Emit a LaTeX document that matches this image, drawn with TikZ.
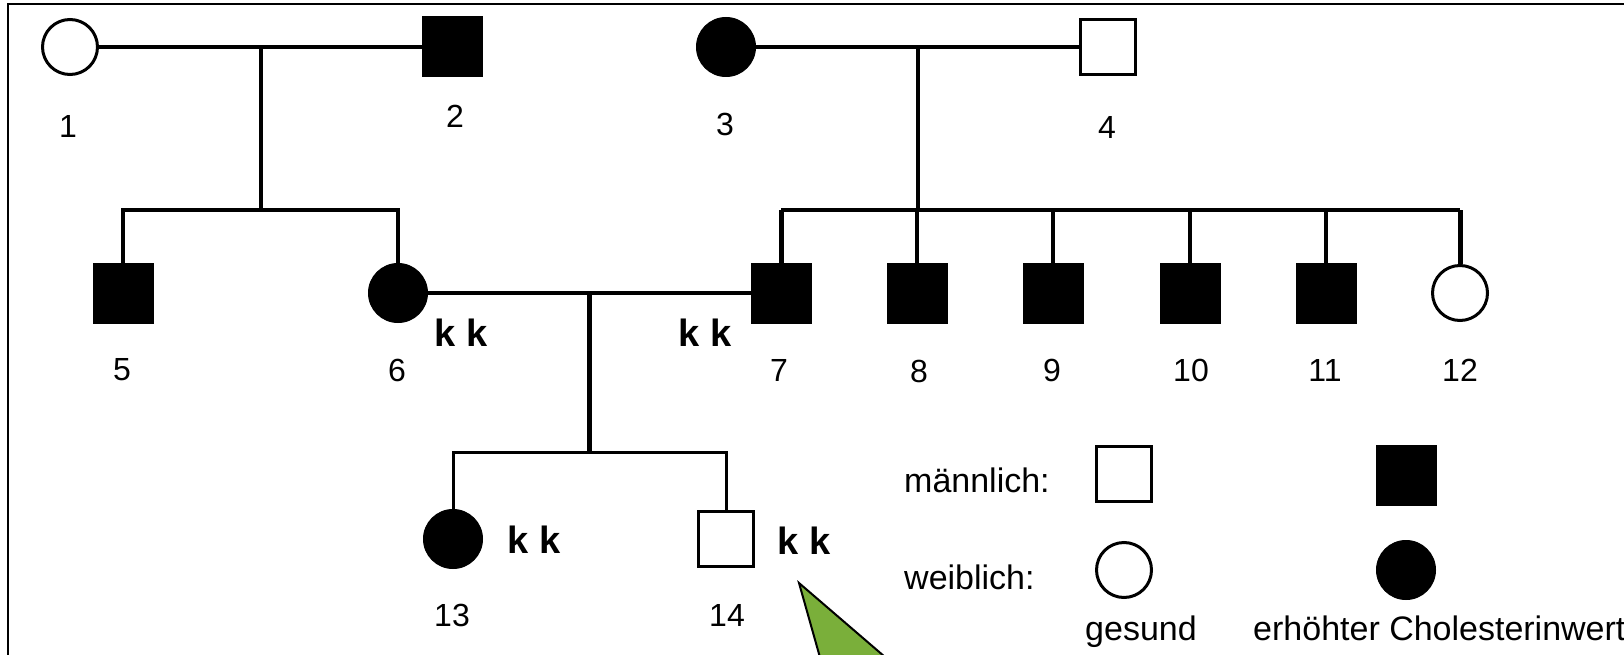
\documentclass[tikz,border=0pt]{standalone}
\usepackage{fontspec}
\setmainfont{Liberation Sans}
\definecolor{calloutgreen}{RGB}{122,175,58}
\begin{document}
\begin{tikzpicture}[x=1pt,y=-1pt,
  hsq/.style={rectangle, draw, fill=white, line width=3pt, minimum size=55pt, inner sep=0pt},
  asq/.style={rectangle, draw, fill=black, line width=1pt, minimum size=60pt, inner sep=0pt},
  hci/.style={circle, draw, fill=white, line width=3pt, minimum size=55pt, inner sep=0pt},
  aci/.style={circle, draw, fill=black, line width=1pt, minimum size=59pt, inner sep=0pt},
  num/.style={font=\fontsize{32}{32}\selectfont, inner sep=0pt},
  geno/.style={font=\fontsize{38}{38}\selectfont\bfseries, inner sep=0pt},
  leg/.style={font=\fontsize{34}{34}\selectfont, inner sep=0pt},
  couple/.style={line width=4pt},
  descent/.style={line width=3.5pt}
]
\useasboundingbox (0,0) rectangle (1624,655);
\clip (0,0) rectangle (1624,655);
% frame
\draw[line width=2.5pt] (8,4) rectangle (1720,720);

% generation I
\node[hci] (n1) at (70,47) {};
\node[asq] (n2) at (452,47) {};
\node[aci] (n3) at (726,47) {};
\node[hsq] (n4) at (1108,47) {};
\node[num] (l1) at (68,126) {1};
\node[num] (l2) at (455,116) {2};
\node[num] (l3) at (725,124) {3};
\node[num] (l4) at (1107,127) {4};

% generation II
\node[asq] (n5) at (123,293) {};
\node[aci] (n6) at (398,293) {};
\node[asq] (n7) at (781,293) {};
\node[asq] (n8) at (917,293) {};
\node[asq] (n9) at (1053,293) {};
\node[asq] (n10) at (1190,293) {};
\node[asq] (n11) at (1326,293) {};
\node[hci] (n12) at (1460,293) {};
\node[num] (l5) at (122,370) {5};
\node[num] (l6) at (397,370) {6};
\node[num] (l7) at (779,370) {7};
\node[num] (l8) at (919,371) {8};
\node[num] (l9) at (1052,370) {9};
\node[num] (l10) at (1191,370) {10};
\node[num] (l11) at (1325,370) {11};
\node[num] (l12) at (1460,370) {12};
\node[geno] (g6) at (461,333) {k k};
\node[geno] (g7) at (705,333) {k k};

% generation III
\node[aci] (n13) at (453,539) {};
\node[hsq] (n14) at (726,539) {};
\node[num] (l13) at (452,615) {13};
\node[num] (l14) at (727,615) {14};
\node[geno] (g13) at (534,540) {k k};
\node[geno] (g14) at (804,541) {k k};

% connectors I
\coordinate (m12) at (261,47);
\coordinate (s12) at (261,210);
\draw[couple] (n1) -- (n2);
\draw[descent] (m12) -- (s12);
\draw[descent] (n5.north) -- (n5.north |- s12) -- (n6.north |- s12) -- (n6.north);

\coordinate (m34) at (918,47);
\coordinate (s34) at (918,210);
\draw[couple] (n3) -- (n4);
\draw[descent] (m34) -- (s34);
\draw[descent] (n7.north |- s34) -- (n12.north |- s34);
\draw[line width=4.5pt] (n9.north |- s34) -- (n11.north |- s34);
\foreach \k in {8,9,10,11} \draw[descent] (n\k.north) -- (n\k.north |- s34);
\draw[line width=5pt] (n7.north) -- (n7.north |- s34);
\draw[line width=5pt] (n12.north) -- (n12.north |- s34);

% connectors II
\coordinate (m67) at (589,293);
\coordinate (s67) at (589,452);
\draw[couple] (n6) -- (n7);
\draw[line width=5pt] (m67) -- (s67);
\draw[line width=3pt] (n13.north) -- (n13.north |- s67) -- (n14.north |- s67) -- (n14.north);

% legend
\node[leg, anchor=base west] (lm) at (904,492) {männlich:};
\node[leg, anchor=base west] (lw) at (904,589) {weiblich:};
\node[hsq] (ks1) at (1124,474) {};
\node[asq] (ks2) at (1406,475) {};
\node[hci] (kc1) at (1124,570) {};
\node[aci] (kc2) at (1406,570) {};
\node[leg, anchor=base] (lg) at (1141,640) {gesund};
\node[leg, anchor=base west] (le) at (1253,640) {erhöhter Cholesterinwert};

% green callout pointer
\coordinate (apex) at (799,583);
\draw[fill=calloutgreen, line width=2pt, line join=miter] (apex) -- (832,700) -- (935,700) -- cycle;
\end{tikzpicture}
\end{document}
